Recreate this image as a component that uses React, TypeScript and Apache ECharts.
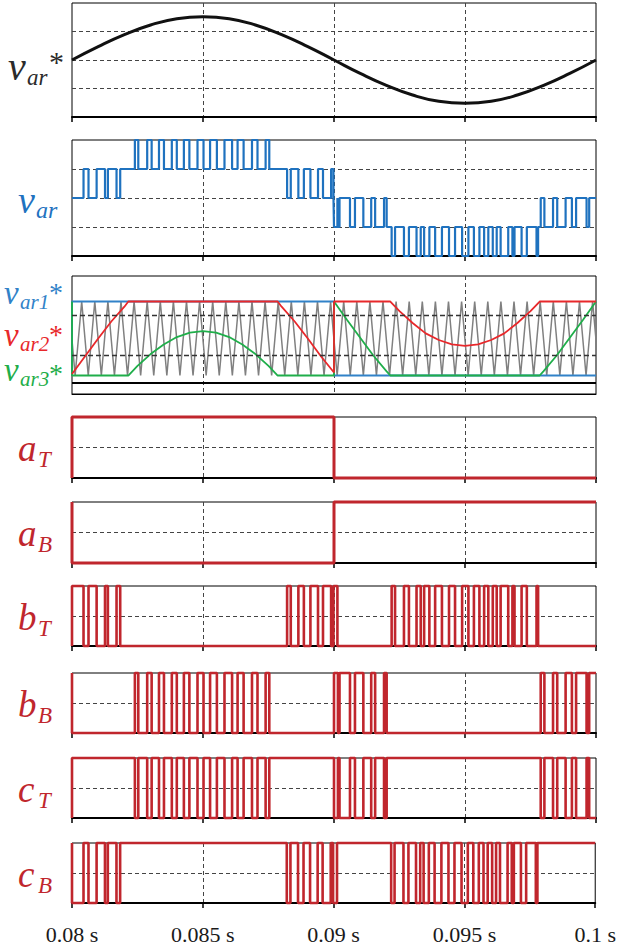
import React, { useEffect, useRef } from "react";
import * as echarts from "echarts";

// ---------- axis ----------
const X_MIN = 0.08;
const X_MAX = 0.1;
const X_STEP = 0.005;
const tickLabels = ["0.08 s", "0.085 s", "0.09 s", "0.095 s", "0.1 s"];

// ---------- panel 1 : v_ar* (reference) ----------
const refTimes = [0.080, 0.081, 0.082, 0.083, 0.084, 0.085, 0.086, 0.087, 0.088, 0.089, 0.090,
  0.091, 0.092, 0.093, 0.094, 0.095, 0.096, 0.097, 0.098, 0.099, 0.100];
const refValues = [0, 0.47, 0.89, 1.23, 1.45, 1.52, 1.45, 1.23, 0.89, 0.47, 0,
  -0.47, -0.89, -1.23, -1.45, -1.52, -1.45, -1.23, -0.89, -0.47, 0];

// ---------- panel 3 : modulating signals and carrier (normalised 0..1) ----------
const var1Times = [0.08, 0.08, 0.09, 0.09, 0.1];
const var1Values = [0, 1, 1, 0, 0];

const var2Times = [0.08, 0.0805, 0.081, 0.0815, 0.082, 0.08215, 0.08785, 0.088, 0.0885, 0.089, 0.0895, 0.09,
  0.09, 0.09215, 0.0925, 0.093, 0.0935, 0.094, 0.0945, 0.095, 0.0955, 0.096, 0.0965, 0.097, 0.0975, 0.09785, 0.1];
const var2Values = [0.02, 0.26, 0.5, 0.73, 0.93, 1, 1, 0.93, 0.73, 0.5, 0.26, 0.04,
  1, 1, 0.87, 0.71, 0.57, 0.48, 0.42, 0.4, 0.42, 0.48, 0.57, 0.71, 0.87, 1, 1];

const var3Times = [0.08, 0.08, 0.08215, 0.0825, 0.083, 0.0835, 0.084, 0.0845, 0.085, 0.0855, 0.086, 0.0865, 0.087,
  0.0875, 0.08785, 0.09, 0.09, 0.0905, 0.091, 0.0915, 0.092, 0.09215, 0.09785, 0.098, 0.0985, 0.099, 0.0995, 0.1];
const var3Values = [1, 0, 0, 0.13, 0.29, 0.42, 0.52, 0.58, 0.6, 0.58, 0.52, 0.42, 0.29,
  0.13, 0, 0, 1, 0.75, 0.51, 0.27, 0.06, 0, 0, 0.06, 0.27, 0.51, 0.75, 1];

// carrier vertices, in ms after 0.08 s
const carrierTroughsMs = [0.12, 0.62, 1.12, 1.62, 2.12, 2.62, 3.12, 3.62, 4.12, 4.62, 5.12, 5.62, 6.12, 6.62,
  7.12, 7.62, 8.12, 8.62, 9.12, 9.62, 10.12, 10.62, 11.12, 11.62, 12.12, 12.62, 13.12, 13.62, 14.12, 14.62,
  15.12, 15.62, 16.12, 16.62, 17.12, 17.62, 18.12, 18.62, 19.12, 19.62];
const carrierPeaksMs = [0.37, 0.87, 1.37, 1.87, 2.37, 2.87, 3.37, 3.87, 4.37, 4.87, 5.37, 5.87, 6.37, 6.87,
  7.37, 7.87, 8.37, 8.87, 9.37, 9.87, 10.37, 10.87, 11.37, 11.87, 12.37, 12.87, 13.37, 13.87, 14.37, 14.87,
  15.37, 15.87, 16.37, 16.87, 17.37, 17.87, 18.37, 18.87, 19.37, 19.87];
const carrierEdgeValue = 0.48;

// ---------- switching signals (start state + toggle instants, s) ----------
const aT_start = 0;
const aT_edges = [0.08, 0.09];
const aB_start = 1;
const aB_edges = [0.08, 0.09];

const bT_start = 0;
const bT_edges = [0.08, 0.08044, 0.08063, 0.08094, 0.08126, 0.08137, 0.0817, 0.08184,
  0.08821, 0.08835, 0.08864, 0.08885, 0.0891, 0.08939, 0.08958, 0.08989, 0.08998, 0.09013,
  0.0922, 0.09233, 0.09267, 0.09286, 0.09315, 0.09331, 0.09344, 0.09364, 0.09386, 0.09412, 0.09439, 0.09462,
  0.09489, 0.09513, 0.09534, 0.09555, 0.09573, 0.09589, 0.09606, 0.09621, 0.09636, 0.09665, 0.09681, 0.09689,
  0.09716, 0.09736, 0.09773, 0.09779];

const bB_start = 1;
const bB_edges = [0.08, 0.0824, 0.08253, 0.08287, 0.08304, 0.08332, 0.08351, 0.08381, 0.084, 0.08427, 0.08448,
  0.08479, 0.08502, 0.08527, 0.08553, 0.08582, 0.08611, 0.08632, 0.08655, 0.08687, 0.08708, 0.08739, 0.08753,
  0.09, 0.09015, 0.09021, 0.09061, 0.0908, 0.09112, 0.09142, 0.09157, 0.09191, 0.09201,
  0.09789, 0.09803, 0.09836, 0.09852, 0.09884, 0.09908, 0.09924, 0.09964, 0.09974];

// c leg switches at the same instants as the b leg, with inverted states
const cT_start = 0;
const cT_edges = bB_edges;
const cB_start = 1;
const cB_edges = bT_edges;

// ---------- helpers ----------
function pairs(ts: number[], vs: number[]) {
  return ts.map((t, i) => [t, vs[i]]);
}

function stepData(start: number, edges: number[]) {
  const pts: number[][] = [[X_MIN, start]];
  let s = start;
  for (const e of edges) {
    pts.push([e, s]);
    s = 1 - s;
    pts.push([e, s]);
  }
  pts.push([X_MAX, s]);
  return pts;
}

function carrierData() {
  const pts: number[][] = [[X_MIN, carrierEdgeValue]];
  for (let k = 0; k < carrierTroughsMs.length; k++) {
    pts.push([X_MIN + carrierTroughsMs[k] / 1000, 0]);
    pts.push([X_MIN + carrierPeaksMs[k] / 1000, 1]);
  }
  pts.push([X_MAX, carrierEdgeValue]);
  return pts;
}

// v_ar = aT - aB + bB - bT, evaluated at every switching instant
function varData() {
  const sigs = [
    { s: aT_start, e: aT_edges, w: 1 },
    { s: aB_start, e: aB_edges, w: -1 },
    { s: bB_start, e: bB_edges, w: 1 },
    { s: bT_start, e: bT_edges, w: -1 },
  ];
  const st = sigs.map((g) => g.s);
  const val = () => sigs.reduce((acc, g, i) => acc + g.w * st[i], 0);
  const times = Array.from(new Set(sigs.flatMap((g) => g.e))).sort((a, b) => a - b);
  const pts: number[][] = [[X_MIN, val()]];
  for (const t of times) {
    pts.push([t, val()]);
    sigs.forEach((g, i) => {
      g.e.forEach((e) => {
        if (e === t) st[i] = 1 - st[i];
      });
    });
    pts.push([t, val()]);
  }
  pts.push([X_MAX, val()]);
  return pts;
}

const BLUE = "#1f72bf";
const RED = "#e8282b";
const GREEN = "#1fae4a";
const SW_RED = "#c0262d";
const GRAY = "#808080";
const SERIF = "Liberation Serif";

export default function App() {
  const ref = useRef<HTMLDivElement>(null);

  useEffect(() => {
    if (!ref.current) return;
    const chart = echarts.init(ref.current, undefined, { renderer: "svg" });

    const gridDefs = [
      { top: 3, height: 114 },
      { top: 140, height: 116 },
      { top: 276, height: 118 },
      { top: 417, height: 61 },
      { top: 502, height: 61 },
      { top: 586, height: 60 },
      { top: 673, height: 60 },
      { top: 758, height: 60 },
      { top: 843, height: 60 },
    ];

    const grid = gridDefs.map((g) => ({
      left: 72,
      width: 524,
      top: g.top,
      height: g.height,
      show: true,
      borderColor: "#000",
      borderWidth: 1,
      backgroundColor: "transparent",
    }));

    const xAxis = gridDefs.map((_, i) => ({
      type: "value",
      gridIndex: i,
      min: X_MIN,
      max: X_MAX,
      interval: X_STEP,
      axisLine: { show: true, onZero: false, lineStyle: { color: "#000", width: i === 2 ? 1 : 2 } },
      axisTick: { show: i !== 2, length: 5, lineStyle: { color: "#000", width: 1.5 } },
      axisLabel: {
        show: i === 8,
        margin: 20,
        fontSize: 22,
        fontFamily: SERIF,
        color: "#1a1a1a",
        formatter: (_v: number, idx: number) => tickLabels[idx] ?? "",
      },
      splitLine: {
        show: true,
        showMinLine: false,
        showMaxLine: false,
        lineStyle: { type: [4, 3], color: "#444", width: 1 },
      },
    }));

    const yAxis = gridDefs.map((_, i) => {
      const base: any = {
        type: "value",
        gridIndex: i,
        axisLine: { show: false },
        axisTick: { show: false },
        axisLabel: { show: false },
        splitLine: {
          show: i !== 2,
          showMinLine: false,
          showMaxLine: false,
          lineStyle: { type: [4, 3], color: "#444", width: 1 },
        },
      };
      if (i < 2) Object.assign(base, { min: -2, max: 2, interval: 1 });
      else if (i === 2) Object.assign(base, { min: -0.25, max: 1.345 });
      else Object.assign(base, { min: 0, max: 1, interval: 0.5 });
      return base;
    });

    const line = (i: number, data: number[][], color: string, width: number, extra: any = {}) => ({
      type: "line",
      xAxisIndex: i,
      yAxisIndex: i,
      data,
      showSymbol: false,
      symbol: "none",
      clip: false,
      silent: true,
      lineStyle: { color, width },
      ...extra,
    });

    const series: any[] = [
      line(0, pairs(refTimes, refValues), "#111", 3, { smooth: true }),
      line(1, varData(), BLUE, 2.2),
      line(2, carrierData(), GRAY, 1.5, {
        markLine: {
          silent: true,
          symbol: "none",
          label: { show: false },
          data: [
            { yAxis: 0.267, lineStyle: { type: [5, 3], color: "#333", width: 1.3 } },
            { yAxis: 0.807, lineStyle: { type: [5, 3], color: "#333", width: 1.3 } },
            { yAxis: -0.105, lineStyle: { type: "solid", color: "#000", width: 2 } },
          ],
        },
      }),
      line(2, pairs(var1Times, var1Values), "#3182c8", 1.8),
      line(2, pairs(var3Times, var3Values), GREEN, 1.8),
      line(2, pairs(var2Times, var2Values), RED, 1.8),
      line(3, stepData(aT_start, aT_edges), SW_RED, 3),
      line(4, stepData(aB_start, aB_edges), SW_RED, 3),
      line(5, stepData(bT_start, bT_edges), SW_RED, 2.6),
      line(6, stepData(bB_start, bB_edges), SW_RED, 2.6),
      line(7, stepData(cT_start, cT_edges), SW_RED, 2.6),
      line(8, stepData(cB_start, cB_edges), SW_RED, 2.6),
    ];

    const txt = (text: string, x: number, baseline: number, size: number, color: string, italic = true) => ({
      type: "text",
      x,
      y: baseline - 0.34 * size,
      silent: true,
      style: {
        text,
        fill: color,
        fontSize: size,
        fontStyle: italic ? "italic" : "normal",
        fontFamily: SERIF,
        align: "left",
        verticalAlign: "middle",
      },
    });

    const graphic: any[] = [
      // v_ar*
      txt("v", 8, 80, 40, "#2b2b2b"),
      txt("ar", 27, 85, 23, "#2b2b2b"),
      txt("*", 49, 72, 30, "#2b2b2b", false),
      // v_ar
      txt("v", 18, 213, 38, BLUE),
      txt("ar", 36, 218, 24, BLUE),
      // v_ar1*, v_ar2*, v_ar3*
      txt("v", 4, 304, 33, "#3182c8"),
      txt("ar1", 20, 309, 21, "#3182c8"),
      txt("*", 49, 302, 28, "#3182c8", false),
      txt("v", 4, 346, 33, RED),
      txt("ar2", 20, 351, 21, RED),
      txt("*", 49, 344, 28, RED, false),
      txt("v", 4, 381, 33, GREEN),
      txt("ar3", 20, 386, 21, GREEN),
      txt("*", 49, 383, 28, GREEN, false),
    ];

    const swLabels = [
      ["a", "T", 447.5],
      ["a", "B", 532.5],
      ["b", "T", 616],
      ["b", "B", 703],
      ["c", "T", 788],
      ["c", "B", 873],
    ] as const;
    swLabels.forEach(([m, s, c]) => {
      graphic.push(txt(m, 18, c + 14, 37, SW_RED));
      graphic.push(txt(s, 38, c + 20, 23, SW_RED));
    });

    chart.setOption({
      animation: false,
      backgroundColor: "#fff",
      grid,
      xAxis,
      yAxis,
      series,
      graphic,
    });

    return () => chart.dispose();
  }, []);

  return (
    <div
      ref={ref}
      style={{ position: "fixed", left: 0, top: 0, width: 619, height: 950, background: "#fff" }}
    />
  );
}
